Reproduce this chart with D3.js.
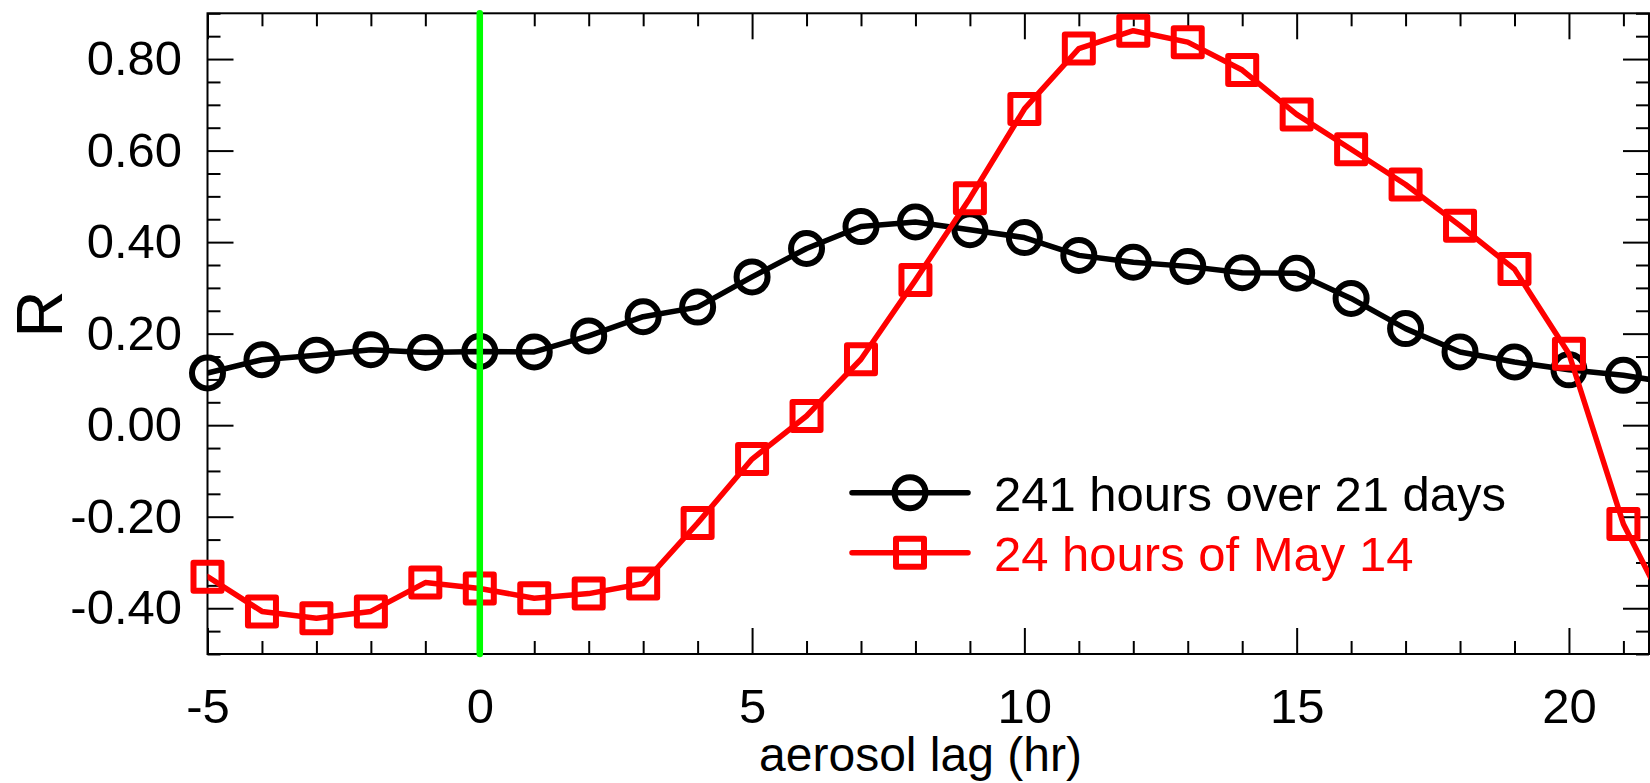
<!DOCTYPE html>
<html><head><meta charset="utf-8">
<script src="https://cdn.jsdelivr.net/npm/d3@7"></script>
<style>
body{margin:0;background:#fff}
svg{display:block}
text{font-family:"Liberation Sans",Arial,Helvetica,sans-serif}
</style>
</head><body>
<svg id="chart" width="1650" height="783"></svg>
<script>
// ---- data ----
const lags = [-5,-4,-3,-2,-1,0,1,2,3,4,5,6,7,8,9,10,11,12,13,14,15,16,17,18,19,20,21,22];
const r241hours = [0.114,0.143,0.153,0.165,0.159,0.161,0.160,0.195,0.237,0.258,0.324,0.386,0.434,0.444,0.427,0.410,0.371,0.356,0.347,0.333,0.332,0.277,0.211,0.160,0.138,0.121,0.109,0.090];
const rMay14 = [-0.331,-0.407,-0.422,-0.407,-0.344,-0.357,-0.378,-0.368,-0.346,-0.214,-0.074,0.020,0.144,0.317,0.496,0.691,0.823,0.862,0.837,0.776,0.679,0.603,0.526,0.436,0.341,0.156,-0.216,-0.450];
const xTickValues = [-5,0,5,10,15,20];
const yTickValues = [-0.4,-0.2,0.0,0.2,0.4,0.6,0.8];
const seriesNames = ["241 hours over 21 days","24 hours of May 14"];
const seriesColors = ["#000000","#ff0000"];
const xTitle = "aerosol lag (hr)";
const yTitle = "R";
const markLag = 0;

// ---- layout ----
const L = 207.5, Rt = 1649, T = 13.3, B = 654;
const FONT = 49;
const svg = d3.select("#chart");
svg.append("rect").attr("width",1650).attr("height",783).attr("fill","#fff");

const x = d3.scaleLinear().domain([-5, 21.47]).range([L, Rt]);
const y = d3.scaleLinear().domain([-0.5, 0.9]).range([B, T]);

const xMinor = d3.range(-5, 22, 1).filter(v => xTickValues.indexOf(v) < 0);
const yMinor = d3.range(-10, 19).map(i => +(i*0.05).toFixed(2)).filter(v => yTickValues.every(t => Math.abs(t-v) > 1e-6));

function style(g, labels){
  g.select(".domain").remove();
  g.selectAll(".tick line").attr("stroke","#000").attr("stroke-width",2);
  if(labels){
    g.selectAll(".tick text").attr("fill","#000").style("font-size",FONT+"px")
      .style("font-family",'"Liberation Sans",Arial,Helvetica,sans-serif');
  } else {
    g.selectAll(".tick text").remove();
  }
}

// bottom
svg.append("g").attr("transform",`translate(0,${B})`)
  .call(d3.axisBottom(x).tickValues(xTickValues).tickSize(-26).tickPadding(34).tickFormat(d=>String(d)))
  .call(g=>style(g,true));
svg.append("g").attr("transform",`translate(0,${B})`)
  .call(d3.axisBottom(x).tickValues(xMinor).tickSize(-13).tickFormat(""))
  .call(g=>style(g,false));
// top
svg.append("g").attr("transform",`translate(0,${T})`)
  .call(d3.axisTop(x).tickValues(xTickValues).tickSize(-26).tickFormat(""))
  .call(g=>style(g,false));
svg.append("g").attr("transform",`translate(0,${T})`)
  .call(d3.axisTop(x).tickValues(xMinor).tickSize(-13).tickFormat(""))
  .call(g=>style(g,false));
// left
svg.append("g").attr("transform",`translate(${L},0)`)
  .call(d3.axisLeft(y).tickValues(yTickValues).tickSize(-26).tickPadding(25.5).tickFormat(d=>d.toFixed(2)))
  .call(g=>style(g,true));
svg.append("g").attr("transform",`translate(${L},0)`)
  .call(d3.axisLeft(y).tickValues(yMinor).tickSize(-13).tickFormat(""))
  .call(g=>style(g,false));
// right
svg.append("g").attr("transform",`translate(${Rt},0)`)
  .call(d3.axisRight(y).tickValues(yTickValues).tickSize(-26).tickFormat(""))
  .call(g=>style(g,false));
svg.append("g").attr("transform",`translate(${Rt},0)`)
  .call(d3.axisRight(y).tickValues(yMinor).tickSize(-13).tickFormat(""))
  .call(g=>style(g,false));

// frame
svg.append("rect").attr("x",L).attr("y",T).attr("width",Rt-L).attr("height",B-T)
  .attr("fill","none").attr("stroke","#000").attr("stroke-width",2);

// clip for lines
svg.append("clipPath").attr("id","plotclip").append("rect")
  .attr("x",L).attr("y",T).attr("width",Rt-L).attr("height",B-T);

const line = d3.line().x(d=>x(d.lag)).y(d=>y(d.v));
const series = [r241hours, rMay14].map(vals => lags.map((lag,i)=>({lag, v: vals[i]})));

const SQ = 28, CR = 15.5, SW = 6;
function drawMarker(g, idx, cx, cy){
  if(idx===0){
    g.append("circle").attr("cx",cx).attr("cy",cy).attr("r",CR)
      .attr("fill","none").attr("stroke",seriesColors[idx]).attr("stroke-width",SW);
  } else {
    g.append("rect").attr("x",cx-SQ/2).attr("y",cy-SQ/2).attr("width",SQ).attr("height",SQ)
      .attr("fill","none").attr("stroke",seriesColors[idx]).attr("stroke-width",SW)
      .attr("stroke-linejoin","round");
  }
}

series.forEach((data, idx) => {
  const g = svg.append("g");
  g.append("path").datum(data).attr("d",line).attr("clip-path","url(#plotclip)")
    .attr("fill","none").attr("stroke",seriesColors[idx]).attr("stroke-width",5.5)
    .attr("stroke-linejoin","round").attr("stroke-linecap","round");
  data.filter(d => d.lag <= x.domain()[1]).forEach(d => drawMarker(g, idx, x(d.lag), y(d.v)));
});

// green vertical line at lag 0
svg.append("line").attr("x1",x(markLag)).attr("x2",x(markLag)).attr("y1",T).attr("y2",B)
  .attr("stroke","#00ff00").attr("stroke-width",6.5).attr("stroke-linecap","round");

// legend
const legY = [492.7, 552.7];
seriesNames.forEach((name, idx) => {
  const g = svg.append("g");
  g.append("line").attr("x1",852).attr("x2",968).attr("y1",legY[idx]).attr("y2",legY[idx])
    .attr("stroke",seriesColors[idx]).attr("stroke-width",5.5).attr("stroke-linecap","round");
  drawMarker(g, idx, 910, legY[idx]);
  g.append("text").attr("x",994).attr("y",legY[idx]+18).attr("fill",seriesColors[idx])
    .style("font-size",FONT+"px").text(name);
});

// axis titles
svg.append("text").attr("x",920.5).attr("y",771).attr("text-anchor","middle")
  .attr("fill","#000").style("font-size","48px").text(xTitle);
svg.append("text").attr("transform","translate(61.7,314) rotate(-90)").attr("text-anchor","middle")
  .attr("fill","#000").style("font-size","65px").text(yTitle);
</script>
</body></html>
